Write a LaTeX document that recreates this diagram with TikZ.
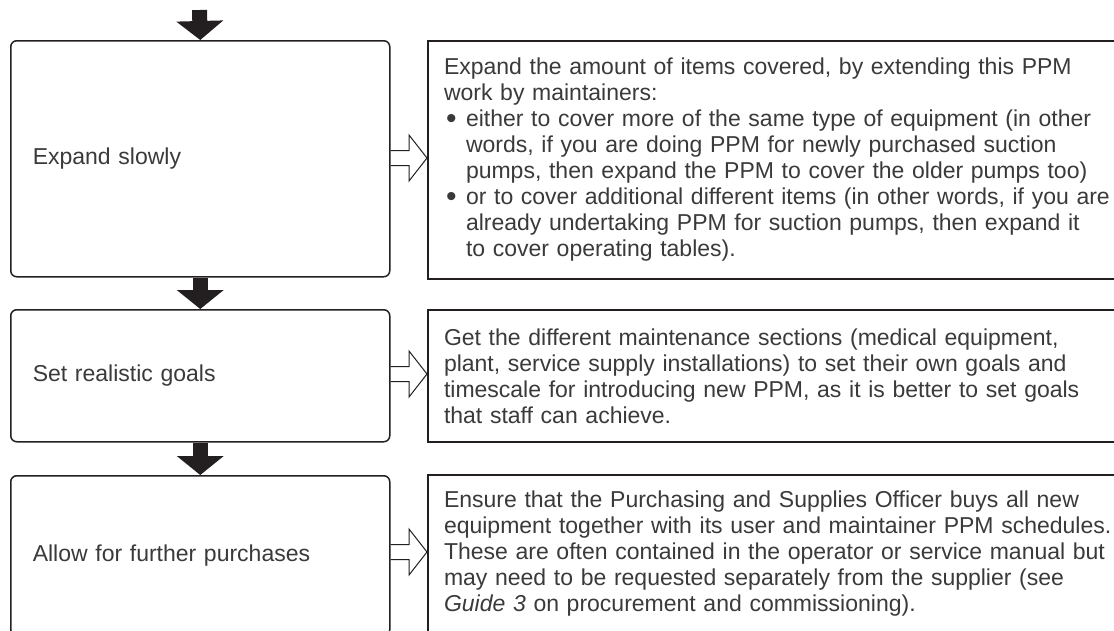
\documentclass[tikz,border=0pt]{standalone}
\usepackage{fontspec}
\setmainfont{Liberation Sans}
\usetikzlibrary{arrows.meta,calc}
\definecolor{ink}{HTML}{231F20}
\definecolor{txt}{HTML}{3A3A3A}
\tikzset{
  stepbox/.style={draw=ink, line width=1.5pt, rounded corners=6pt, anchor=north west,
    minimum width=379pt, text width=335pt, inner xsep=22pt, inner ysep=0pt, align=left,
    text=txt, font=\fontsize{23pt}{26pt}\selectfont},
  notebox/.style={draw=ink, line width=2pt, anchor=north west,
    text width=680pt, inner xsep=16pt, inner ysep=0pt, align=left,
    text=txt, font=\fontsize{23pt}{26pt}\selectfont},
  downarrow/.style={draw=ink, line width=15pt, -{Triangle[width=46pt,length=19pt]}},
  hollow/.style={draw=ink, line width=1pt, line join=miter}
}
\newcommand{\bul}{\hspace*{2pt}\makebox[20pt][l]{\raisebox{-1.8pt}{\fontsize{30pt}{26pt}\selectfont •}}}
\newcommand{\ind}{\hspace*{22pt}}
\begin{document}
\begin{tikzpicture}[x=1pt,y=-1pt]
\useasboundingbox (0,0) rectangle (1114,630);
\clip (0,0) rectangle (1114,630);
\fill[white] (0,0) rectangle (1114,630);

\node[stepbox, minimum height=236pt] (l1) at (10,40) {Expand slowly};
\node[stepbox, minimum height=132pt] (l2) at (10,309) {Set realistic goals};
\node[stepbox, minimum height=160pt] (l3) at (10,475) {Allow for further purchases};

\node[notebox, minimum height=238pt] (r1) at (427,40) {Expand the amount of items covered, by extending this PPM\\
work by maintainers:\\
\bul either to cover more of the same type of equipment (in other\\
\ind words, if you are doing PPM for newly purchased suction\\
\ind pumps, then expand the PPM to cover the older pumps too)\\
\bul or to cover additional different items (in other words, if you are\\
\ind already undertaking PPM for suction pumps, then expand it\\
\ind to cover operating tables).};

\node[notebox, minimum height=132pt] (r2) at (427,309) {Get the different maintenance sections (medical equipment,\\
plant, service supply installations) to set their own goals and\\
timescale for introducing new PPM, as it is better to set goals\\
that staff can achieve.};

\node[notebox, minimum height=158pt] (r3) at (427,474) {Ensure that the Purchasing and Supplies Officer buys all new\\
equipment together with its user and maintainer PPM schedules.\\
These are often contained in the operator or service manual but\\
may need to be requested separately from the supplier (see\\
\textit{Guide 3} on procurement and commissioning).};

% down arrows
\coordinate (start) at (199.5,10);
\draw[downarrow] (start) -- (l1.north);
\draw[downarrow] (l1.south) -- (l2.north);
\draw[downarrow] (l2.south) -- (l3.north);

% hollow arrows
\foreach \a/\b in {l1/r1, l2/r2, l3/r3}{
  \coordinate (t) at ($(\b.west)+(0,-2)$);
  \draw[hollow] ($(\a.east |- t)+(0,-7.5)$) -- ($(t)+(-18,-7.5)$) -- ($(t)+(-18,-23)$)
    -- (t) -- ($(t)+(-18,23)$) -- ($(t)+(-18,7.5)$) -- ($(\a.east |- t)+(0,7.5)$);
}
\end{tikzpicture}
\end{document}
